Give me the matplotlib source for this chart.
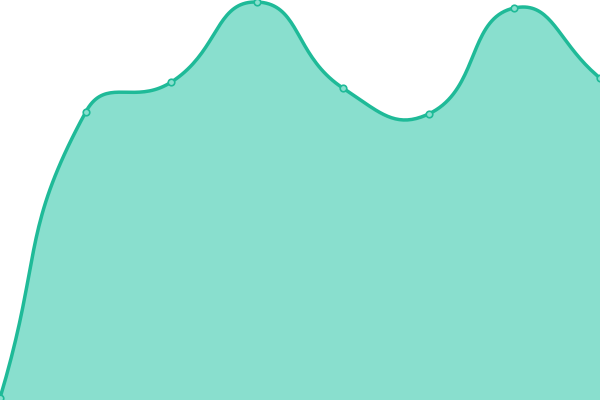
import matplotlib
matplotlib.use('Agg')
import matplotlib.pyplot as plt
import numpy as np

# data (heights in pixel-like units, 0..400)
x_idx = [0, 1, 2, 3, 4, 5, 6, 7]
values = [2, 288, 318, 398, 312, 286, 392, 322]

line_color = '#1fba98'
fill_color = '#89dfce'


def smooth_path(px, py, smooth=0.5, steps=40):
    # bezier smoothing between neighbours, like a smoothed area chart
    pts = np.column_stack([px, py]).astype(float)
    n = len(pts)
    cps = []
    for i in range(n):
        prev = pts[i - 1] if i > 0 else pts[i]
        nxt = pts[i + 1] if i < n - 1 else pts[i]
        v = nxt - prev
        d0 = np.hypot(*(pts[i] - prev))
        d1 = np.hypot(*(pts[i] - nxt))
        s = d0 + d1 if d0 + d1 > 0 else 1
        cps.append((pts[i] - v * smooth * d0 / s, pts[i] + v * smooth * d1 / s))
    xs, ys = [], []
    t = np.linspace(0, 1, steps)
    for i in range(n - 1):
        p0 = pts[i]
        c1 = cps[i][1]
        c2 = cps[i + 1][0]
        p3 = pts[i + 1]
        b = ((1 - t) ** 3)[:, None] * p0 + (3 * (1 - t) ** 2 * t)[:, None] * c1 \
            + (3 * (1 - t) * t ** 2)[:, None] * c2 + (t ** 3)[:, None] * p3
        xs.extend(b[:, 0])
        ys.extend(b[:, 1])
    return np.array(xs), np.array(ys)


fig = plt.figure(figsize=(6, 4), dpi=100)
ax = fig.add_axes([0, 0, 1, 1])

# scale x so the index spacing matches the pixel spacing of the chart
xs_px = np.array(x_idx) * 600 / 7
sx, sy = smooth_path(xs_px, values)

ax.fill_between(sx, 0, sy, color=fill_color, linewidth=0)
ax.plot(sx, sy, color=line_color, linewidth=2.5, solid_capstyle='round')
ax.scatter(xs_px, values, s=22, facecolor=fill_color, edgecolor=line_color,
           linewidth=1.2, zorder=3, clip_on=True)

ax.set_xlim(0, 600)
ax.set_ylim(0, 400)
ax.axis('off')

plt.savefig('out.png', dpi=100)
